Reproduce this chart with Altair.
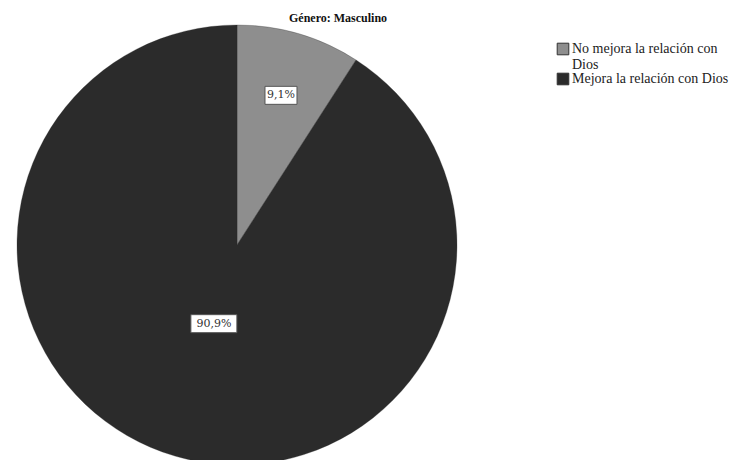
import altair as alt
import pandas as pd

categorias = ["No mejora la relación con Dios", "Mejora la relación con Dios"]
porcentajes = [9.1, 90.9]
etiquetas = ["9,1%", "90,9%"]
orden = [0, 1]
colores = ["#8e8e8e", "#2b2b2b"]

df = pd.DataFrame({"categoria": categorias, "valor": porcentajes,
                   "etiqueta": etiquetas, "orden": orden})

CX, CY, R = 237, 215, 220
FONT = "Liberation Serif"
FONT2 = "DejaVu Serif"

base = alt.Chart(df)

color = alt.Color(
    "categoria:N",
    scale=alt.Scale(domain=categorias, range=colores),
    sort=categorias,
    legend=alt.Legend(
        title=None, orient="none", legendX=556, legendY=12,
        symbolType="square", symbolSize=135, symbolStrokeColor="#333333",
        symbolStrokeWidth=1, symbolOpacity=1,
        labelFont=FONT, labelFontSize=14, labelColor="#222222",
        labelLimit=300, rowPadding=-3, symbolOffset=0, labelOffset=2,
        labelExpr="datum.label == 'No mejora la relación con Dios' ? ['No mejora la relación con', 'Dios'] : datum.label",
    ),
)

pie = base.mark_arc(radius=R, stroke="#2b2b2b", strokeWidth=0.3).encode(
    theta=alt.Theta("valor:Q", stack=True),
    order=alt.Order("orden:Q"),
    color=color,
    x=alt.value(CX),
    y=alt.value(CY),
)

lab = base.transform_joinaggregate(total="sum(valor)").transform_window(
    cum="sum(valor)", sort=[alt.SortField("orden")]
).transform_calculate(
    mid="(datum.cum - datum.valor/2) / datum.total * 2 * PI",
    lr="datum.valor < 20 ? 156 : 82",
    lx=f"{CX} + datum.lr * sin(datum.mid)",
    ly=f"{CY} - datum.lr * cos(datum.mid)",
    bw="datum.valor < 20 ? 16 : 23",
    x1="datum.lx - datum.bw",
    x2="datum.lx + datum.bw",
    y1="datum.ly - 9",
    y2="datum.ly + 9",
)

boxes = lab.mark_rect(fill="white", stroke="#555555", strokeWidth=1).encode(
    x=alt.X("x1:Q", scale=None, axis=None),
    x2="x2:Q",
    y=alt.Y("y1:Q", scale=None, axis=None),
    y2="y2:Q",
)

texts = lab.mark_text(font=FONT2, fontSize=11, color="#333333",
                      align="center", baseline="middle").encode(
    x=alt.X("lx:Q", scale=None, axis=None),
    y=alt.Y("ly:Q", scale=None, axis=None),
    text="etiqueta:N",
)

chart = alt.layer(pie, boxes, texts).properties(
    width=748, height=430,
    title=alt.TitleParams("Género: Masculino", font=FONT, fontSize=12,
                          fontWeight="bold", color="#111111",
                          anchor="start", dx=289, offset=-1),
    autosize=alt.AutoSizeParams(type="none"),
    padding={"left": 0, "top": 30, "right": 0, "bottom": 0},
).configure(
    background="white",
    view=alt.ViewConfig(stroke=None, strokeWidth=0),
)

chart.save("out.html", embed_options={"renderer": "svg", "actions": False})
